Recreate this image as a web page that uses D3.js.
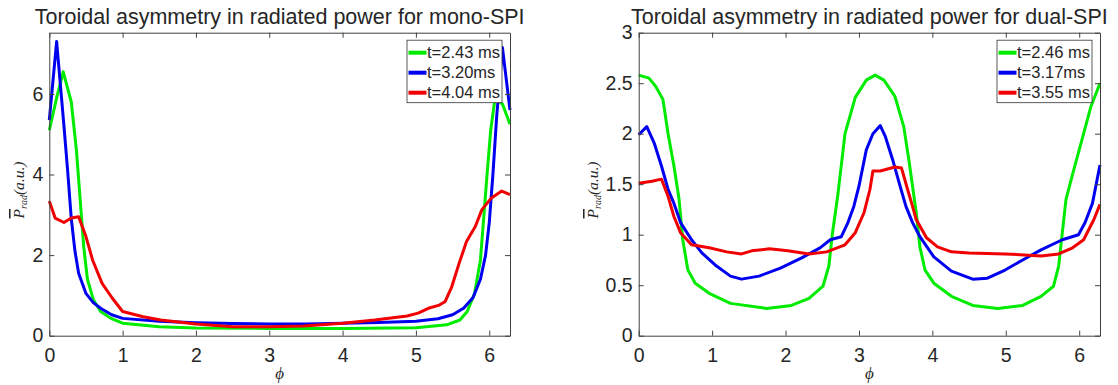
<!DOCTYPE html>
<html>
<head>
<meta charset="utf-8">
<script src="https://cdn.jsdelivr.net/npm/d3@7"></script>
<style>
  body { margin: 0; background: #fff; }
  svg { display: block; }
  text { font-family: "Liberation Sans", Arial, sans-serif; fill: #262626; }
  .serif { font-family: "Liberation Serif", "DejaVu Serif", serif; font-style: italic; }
</style>
</head>
<body>
<svg id="svg" width="1118" height="385"></svg>
<script>
// mono-SPI
var monoLabels = ['t=2.43 ms', 't=3.20ms', 't=4.04 ms'];
var monoPhiG = [0, 0.1, 0.19, 0.3, 0.37, 0.42, 0.47, 0.52, 0.6, 0.7, 0.84, 1.0, 1.5, 2.0, 3.0, 4.0, 5.0, 5.42, 5.6, 5.7, 5.8, 5.88, 5.93, 5.97, 6.02, 6.08, 6.18, 6.283];
var monoValG = [5.1, 5.9, 6.55, 5.8, 4.6, 3.4, 2.2, 1.4, 0.9, 0.6, 0.43, 0.31, 0.22, 0.19, 0.18, 0.18, 0.2, 0.27, 0.39, 0.6, 1.05, 1.88, 3.05, 4.0, 5.1, 5.9, 5.75, 5.25];
var monoPhiB = [0, 0.1, 0.2, 0.25, 0.3, 0.35, 0.4, 0.5, 0.6, 0.7, 0.85, 1.0, 1.5, 2.0, 2.5, 3.0, 3.5, 4.0, 4.5, 5.0, 5.3, 5.5, 5.65, 5.78, 5.88, 5.95, 6.0, 6.05, 6.1, 6.18, 6.283];
var monoValB = [5.35, 7.3, 5.2, 4.1, 2.9, 2.1, 1.55, 1.05, 0.82, 0.68, 0.52, 0.43, 0.36, 0.32, 0.3, 0.29, 0.29, 0.31, 0.33, 0.36, 0.42, 0.52, 0.68, 0.95, 1.4, 2.0, 2.8, 4.0, 5.4, 7.15, 5.6];
var monoPhiR = [0, 0.08, 0.2, 0.3, 0.4, 0.5, 0.59, 0.72, 0.86, 1.0, 1.28, 1.52, 2.0, 2.5, 3.0, 3.47, 4.0, 4.44, 4.88, 5.03, 5.17, 5.32, 5.4, 5.49, 5.59, 5.69, 5.81, 5.9, 6.03, 6.17, 6.283];
var monoValR = [3.34, 2.92, 2.81, 2.92, 2.95, 2.46, 1.88, 1.3, 0.93, 0.6, 0.47, 0.39, 0.29, 0.22, 0.22, 0.24, 0.31, 0.39, 0.49, 0.56, 0.68, 0.76, 0.85, 1.22, 1.8, 2.34, 2.71, 3.13, 3.42, 3.59, 3.5];

// dual-SPI
var dualLabels = ['t=2.46 ms', 't=3.17ms', 't=3.55 ms'];
var dualPhiG = [0, 0.14, 0.23, 0.33, 0.4, 0.48, 0.55, 0.6, 0.67, 0.77, 0.96, 1.25, 1.74, 2.08, 2.32, 2.51, 2.59, 2.64, 2.71, 2.81, 2.95, 3.1, 3.22, 3.34, 3.49, 3.61, 3.68, 3.78, 3.83, 3.9, 4.02, 4.26, 4.55, 4.89, 5.23, 5.48, 5.65, 5.72, 5.77, 5.82, 5.91, 6.06, 6.16, 6.283];
var dualValG = [2.58, 2.55, 2.47, 2.34, 2.0, 1.68, 1.35, 0.95, 0.65, 0.52, 0.42, 0.32, 0.27, 0.3, 0.37, 0.49, 0.69, 1.02, 1.38, 2.0, 2.36, 2.53, 2.58, 2.53, 2.37, 2.07, 1.74, 1.22, 0.88, 0.65, 0.52, 0.39, 0.3, 0.27, 0.3, 0.39, 0.49, 0.69, 1.02, 1.35, 1.6, 2.0, 2.27, 2.5];
var dualPhiB = [0, 0.11, 0.21, 0.31, 0.4, 0.48, 0.57, 0.72, 0.86, 1.06, 1.25, 1.4, 1.64, 1.93, 2.22, 2.47, 2.61, 2.76, 2.85, 2.93, 3.0, 3.1, 3.19, 3.29, 3.36, 3.46, 3.56, 3.64, 3.73, 3.83, 4.02, 4.26, 4.55, 4.75, 4.99, 5.23, 5.48, 5.77, 5.99, 6.08, 6.18, 6.283];
var dualValB = [1.99, 2.07, 1.91, 1.68, 1.45, 1.31, 1.12, 0.95, 0.82, 0.69, 0.59, 0.56, 0.59, 0.67, 0.77, 0.87, 0.95, 0.98, 1.12, 1.28, 1.48, 1.84, 2.0, 2.08, 1.97, 1.74, 1.48, 1.28, 1.12, 0.98, 0.78, 0.64, 0.56, 0.57, 0.65, 0.75, 0.85, 0.95, 1.0, 1.12, 1.31, 1.69];
var dualPhiR = [0, 0.18, 0.31, 0.4, 0.48, 0.57, 0.72, 0.96, 1.2, 1.4, 1.54, 1.78, 2.03, 2.32, 2.56, 2.81, 2.95, 3.07, 3.15, 3.19, 3.29, 3.49, 3.58, 3.65, 3.73, 3.78, 3.92, 4.07, 4.26, 4.5, 4.99, 5.48, 5.72, 5.91, 6.06, 6.2, 6.283];
var dualValR = [1.51, 1.53, 1.55, 1.38, 1.18, 1.02, 0.9, 0.87, 0.83, 0.81, 0.84, 0.86, 0.84, 0.81, 0.83, 0.9, 1.02, 1.22, 1.45, 1.63, 1.63, 1.67, 1.66, 1.48, 1.28, 1.15, 0.97, 0.88, 0.83, 0.82, 0.81, 0.79, 0.81, 0.87, 0.95, 1.15, 1.3];

var xTicks = [0, 1, 2, 3, 4, 5, 6];
var monoYTicks = [0, 2, 4, 6];
var dualYTicks = [0, 0.5, 1, 1.5, 2, 2.5, 3];
var colors = ['rgb(0,235,0)', '#0000f0', '#f00000'];

var svg = d3.select('svg');
var top0 = 32.7, bottom0 = 335.7;

function zip(px, py) {
    return px.map(function (p, i) { return [p, py[i]]; });
}

function plain(d) { return String(d); }

function drawPanel(opt) {
    var x = d3.scaleLinear().domain([0, 2 * Math.PI]).range([opt.left, opt.right]);
    var y = d3.scaleLinear().domain([0, opt.ymax]).range([bottom0, top0]);
    var g = svg.append('g');

    // curves
    var line = d3.line()
        .x(function (d) { return x(d[0]); })
        .y(function (d) { return y(d[1]); });
    opt.series.forEach(function (s, i) {
        g.append('path')
            .datum(s)
            .attr('d', line)
            .attr('fill', 'none')
            .attr('stroke', colors[i])
            .attr('stroke-width', 3)
            .attr('stroke-linejoin', 'round');
    });

    // axes, ticks pointing inward on all four sides
    g.append('g')
        .attr('transform', 'translate(0,' + bottom0 + ')')
        .call(d3.axisBottom(x).tickValues(xTicks).tickSizeInner(-5).tickSizeOuter(0).tickPadding(12).tickFormat(plain))
        .call(styleAxis);
    g.append('g')
        .attr('transform', 'translate(0,' + top0 + ')')
        .call(d3.axisTop(x).tickValues(xTicks).tickSizeInner(-5).tickSizeOuter(0).tickFormat(''))
        .call(styleAxis);
    g.append('g')
        .attr('transform', 'translate(' + opt.left + ',0)')
        .call(d3.axisLeft(y).tickValues(opt.yTicks).tickSizeInner(-5).tickSizeOuter(0).tickPadding(6).tickFormat(plain))
        .call(styleAxis);
    g.append('g')
        .attr('transform', 'translate(' + opt.right + ',0)')
        .call(d3.axisRight(y).tickValues(opt.yTicks).tickSizeInner(-5).tickSizeOuter(0).tickFormat(''))
        .call(styleAxis);

    // title
    g.append('text')
        .attr('x', (opt.left + opt.right) / 2)
        .attr('y', 24)
        .attr('text-anchor', 'middle')
        .attr('font-size', 21.5)
        .attr('fill', '#1a1a1a')
        .text(opt.title);

    // x label
    g.append('text')
        .attr('class', 'serif')
        .attr('x', (opt.left + opt.right) / 2)
        .attr('y', 379)
        .attr('text-anchor', 'middle')
        .attr('font-size', 17)
        .text('\u03d5');

    // y label
    var yl = g.append('text')
        .attr('class', 'serif')
        .attr('transform', 'translate(' + opt.ylabX + ',190) rotate(-90)')
        .attr('text-anchor', 'middle')
        .attr('font-size', 15.5);
    yl.append('tspan').style('text-decoration', 'overline').text('P');
    yl.append('tspan').attr('font-size', 10).attr('dy', 3).text('rad');
    yl.append('tspan').attr('dy', -3).text('(a.u.)');

    // legend
    var lx = opt.right - 103, ly = top0 + 7.5;
    var lg = g.append('g').attr('transform', 'translate(' + lx + ',' + ly + ')');
    lg.append('rect')
        .attr('width', 95)
        .attr('height', 62.5)
        .attr('fill', 'white')
        .attr('stroke', '#333')
        .attr('stroke-width', 0.8);
    opt.labels.forEach(function (t, i) {
        var ry = 12.5 + i * 20;
        lg.append('line')
            .attr('x1', 1.5).attr('x2', 19.5)
            .attr('y1', ry).attr('y2', ry)
            .attr('stroke', colors[i])
            .attr('stroke-width', 4);
        lg.append('text')
            .attr('x', 20)
            .attr('y', ry)
            .attr('dy', '0.35em')
            .attr('font-size', 16.5)
            .text(t);
    });
}

function styleAxis(sel) {
    sel.select('.domain').attr('stroke', '#404040').attr('stroke-width', 1);
    sel.selectAll('.tick line').attr('stroke', '#404040');
    sel.selectAll('.tick text')
        .attr('font-size', 19.5)
        .attr('fill', '#262626')
        .attr('font-family', '"Liberation Sans", Arial, sans-serif');
}

drawPanel({
    left: 49.3, right: 510, ymax: 7.52, ylabX: 24,
    yTicks: monoYTicks,
    title: 'Toroidal asymmetry in radiated power for mono-SPI',
    labels: monoLabels,
    series: [zip(monoPhiG, monoValG), zip(monoPhiB, monoValB), zip(monoPhiR, monoValR)]
});

drawPanel({
    left: 638.7, right: 1100, ymax: 3, ylabX: 598,
    yTicks: dualYTicks,
    title: 'Toroidal asymmetry in radiated power for dual-SPI',
    labels: dualLabels,
    series: [zip(dualPhiG, dualValG), zip(dualPhiB, dualValB), zip(dualPhiR, dualValR)]
});
</script>
</body>
</html>
